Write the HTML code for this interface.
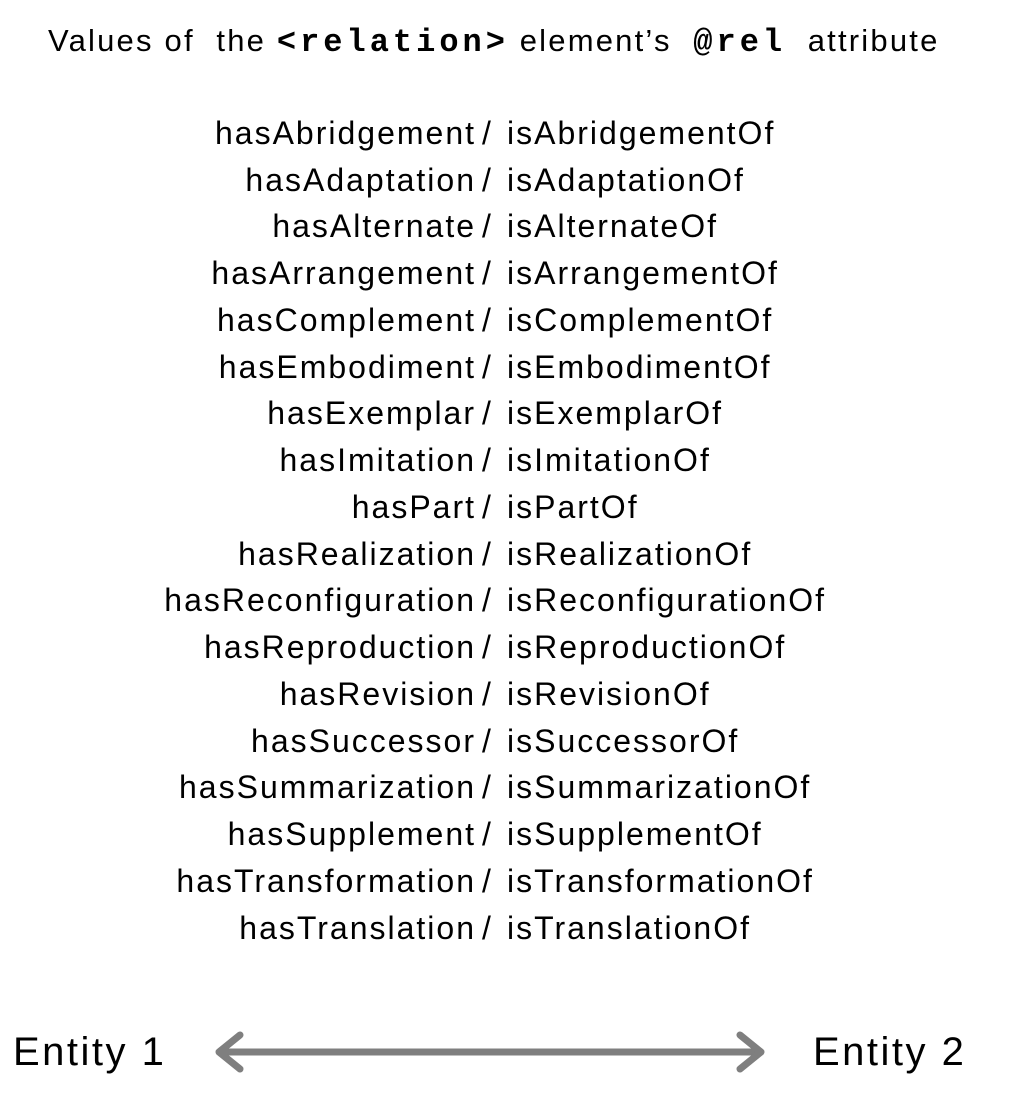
<!DOCTYPE html>
<html><head><style>
body{margin:0;width:1013px;height:1103px;background:#fff;position:relative;font-family:"Liberation Sans",sans-serif;color:#000;overflow:hidden}
.t{position:absolute;left:48px;top:23px;font-size:31px;white-space:nowrap;letter-spacing:2.2px}
.t code{font-family:"Liberation Mono",monospace;font-weight:bold;font-size:32px;letter-spacing:4px}
.row{position:absolute;left:0;width:1013px;height:46px;font-size:32px;line-height:46px;white-space:nowrap;letter-spacing:2px}
.l{position:absolute;right:537px;text-align:right}
.s{position:absolute;left:482px}
.r{position:absolute;left:507px}
.e{position:absolute;font-size:40px;top:1030px;letter-spacing:2.5px}
</style></head><body>
<div class="t">Values of&nbsp; the <code>&lt;relation&gt;</code> element’s&nbsp; <code>@rel</code>&nbsp; attribute</div>
<div class="row" style="top:110px"><span class="l">hasAbridgement</span><span class="s">/</span><span class="r">isAbridgementOf</span></div>
<div class="row" style="top:157px"><span class="l">hasAdaptation</span><span class="s">/</span><span class="r">isAdaptationOf</span></div>
<div class="row" style="top:203px"><span class="l">hasAlternate</span><span class="s">/</span><span class="r">isAlternateOf</span></div>
<div class="row" style="top:250px"><span class="l">hasArrangement</span><span class="s">/</span><span class="r">isArrangementOf</span></div>
<div class="row" style="top:297px"><span class="l">hasComplement</span><span class="s">/</span><span class="r">isComplementOf</span></div>
<div class="row" style="top:344px"><span class="l">hasEmbodiment</span><span class="s">/</span><span class="r">isEmbodimentOf</span></div>
<div class="row" style="top:390px"><span class="l">hasExemplar</span><span class="s">/</span><span class="r">isExemplarOf</span></div>
<div class="row" style="top:437px"><span class="l">hasImitation</span><span class="s">/</span><span class="r">isImitationOf</span></div>
<div class="row" style="top:484px"><span class="l">hasPart</span><span class="s">/</span><span class="r">isPartOf</span></div>
<div class="row" style="top:531px"><span class="l">hasRealization</span><span class="s">/</span><span class="r">isRealizationOf</span></div>
<div class="row" style="top:577px"><span class="l">hasReconfiguration</span><span class="s">/</span><span class="r">isReconfigurationOf</span></div>
<div class="row" style="top:624px"><span class="l">hasReproduction</span><span class="s">/</span><span class="r">isReproductionOf</span></div>
<div class="row" style="top:671px"><span class="l">hasRevision</span><span class="s">/</span><span class="r">isRevisionOf</span></div>
<div class="row" style="top:718px"><span class="l">hasSuccessor</span><span class="s">/</span><span class="r">isSuccessorOf</span></div>
<div class="row" style="top:764px"><span class="l">hasSummarization</span><span class="s">/</span><span class="r">isSummarizationOf</span></div>
<div class="row" style="top:811px"><span class="l">hasSupplement</span><span class="s">/</span><span class="r">isSupplementOf</span></div>
<div class="row" style="top:858px"><span class="l">hasTransformation</span><span class="s">/</span><span class="r">isTransformationOf</span></div>
<div class="row" style="top:905px"><span class="l">hasTranslation</span><span class="s">/</span><span class="r">isTranslationOf</span></div>
<div class="e" style="left:13px">Entity 1</div>
<div class="e" style="left:813px">Entity 2</div>
<svg style="position:absolute;left:0;top:0" width="1013" height="1103">
<g stroke="#7f7f7f" stroke-width="7" fill="none" stroke-linecap="round" stroke-linejoin="round">
<line x1="220" y1="1052" x2="760" y2="1052"/>
<polyline points="240,1035 219,1052 240,1069"/>
<polyline points="740,1035 761,1052 740,1069"/>
</g></svg>
</body></html>
